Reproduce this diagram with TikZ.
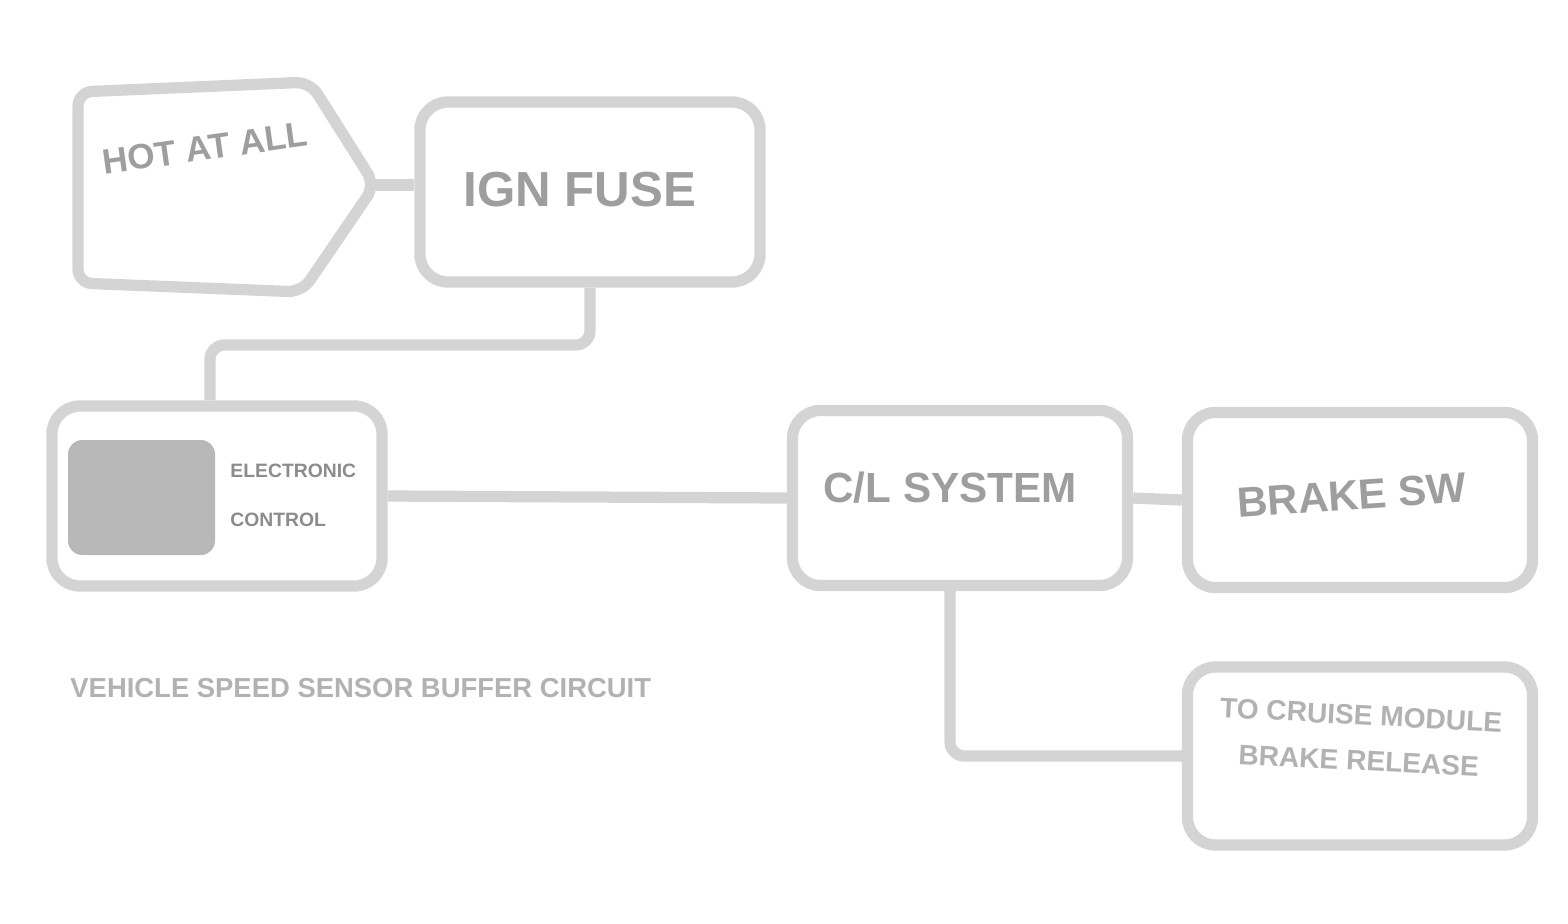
\documentclass[tikz,border=0pt]{standalone}
\usepackage{fontspec}
\setmainfont{Liberation Sans}
\begin{document}
\begin{tikzpicture}[x=0.01cm,y=-0.01cm,
  wire/.style={draw=black!17,line width=3.2pt,rounded corners=4pt},
  box/.style={draw=black!17,line width=3.2pt,rounded corners=8pt,fill=white},
  lbl/.style={text=black!38,font=\bfseries},
  captxt/.style={text=black!30,font=\bfseries\fontsize{7.8}{10}\selectfont}]
\useasboundingbox (0,0) rectangle (1568,923);
% boxes
\draw[box,rounded corners=4pt] (78,92) -- (310,82) -- (375,185) -- (302,292) -- (78,283) -- cycle;
\node[box,minimum width=3.4cm,minimum height=1.8cm] (b) at (590,192) {};
\node[box,minimum width=3.3cm,minimum height=1.8cm] (c) at (217,496) {};
\fill[black!28,rounded corners=4pt] (68,440) rectangle (215,555);
\node[box,minimum width=3.35cm,minimum height=1.75cm] (d) at (960,498) {};
\node[box,minimum width=3.45cm,minimum height=1.75cm] (e) at (1360,500) {};
\node[box,minimum width=3.45cm,minimum height=1.78cm] (f) at (1360,756) {};
\coordinate (a) at (375,185);
\coordinate (k) at (210,345);
\coordinate (dk) at (950,587);
% wires
\draw[wire] (a) -- (b.west |- a);
\draw[wire] (b.south) |- (k) -- (k |- c.north);
\draw[wire] (c.east) -- (d.west);
\draw[wire] (d.east) -- (e.west);
\draw[wire] (dk) |- (f.west);
% texts
\node[lbl,rotate=8,font=\bfseries\fontsize{10}{12}\selectfont] (ta) at (205,148) {HOT AT ALL};
\node[lbl,font=\bfseries\fontsize{14}{16}\selectfont] (tb) at (580,190) {IGN FUSE};
\node[lbl,font=\bfseries\fontsize{12}{14}\selectfont] (td) at (950,488) {C/L SYSTEM};
\node[lbl,rotate=4,font=\bfseries\fontsize{12}{14}\selectfont] (te) at (1352,495) {BRAKE SW};
\node[lbl,text=black!30,align=center,font=\bfseries\fontsize{8}{13}\selectfont,rotate=-3] (tf) at (1360,738) {TO CRUISE MODULE\\ BRAKE RELEASE};
\node[text=black!45,align=left,font=\bfseries\fontsize{5.5}{14}\selectfont,anchor=west] (tc) at (218,495) {ELECTRONIC\\ CONTROL};
\node[captxt,anchor=west] (t) at (58,688) {VEHICLE SPEED SENSOR BUFFER CIRCUIT};
\end{tikzpicture}
\end{document}
